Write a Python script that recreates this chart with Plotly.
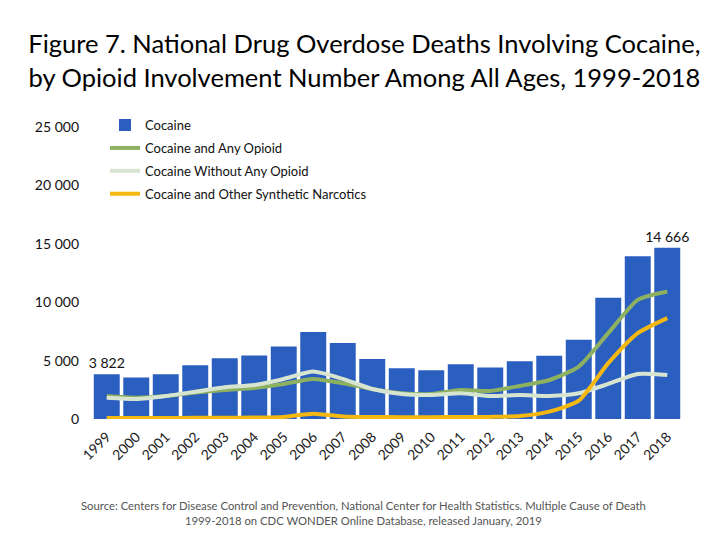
import plotly.graph_objects as go

years = [str(y) for y in range(1999, 2019)]
cocaine = [3822, 3544, 3833, 4599, 5199, 5443, 6208, 7448, 6512, 5129,
           4350, 4183, 4681, 4404, 4944, 5415, 6784, 10375, 13942, 14666]
cocaine_any_opioid = [1970, 1830, 1960, 2260, 2490, 2660, 3000, 3430, 3060, 2570,
                      2200, 2140, 2490, 2400, 2830, 3340, 4490, 7350, 10200, 10920]
cocaine_no_opioid = [1830, 1715, 1970, 2340, 2720, 2915, 3430, 4060, 3430, 2570,
                     2140, 2060, 2200, 1970, 2060, 1970, 2200, 3000, 3860, 3770]
cocaine_synth = [80, 80, 90, 100, 110, 120, 180, 450, 220, 170,
                 160, 160, 170, 180, 250, 630, 1570, 4780, 7350, 8640]
y_ticks = [0, 5000, 10000, 15000, 20000, 25000]
title_lines = ["Figure 7. National Drug Overdose Deaths Involving Cocaine,",
               "by Opioid Involvement Number Among All Ages, 1999-2018"]
source_lines = ["Source: Centers for Disease Control and Prevention, National Center for Health Statistics. Multiple Cause of Death",
                "1999-2018 on CDC WONDER Online Database, released January, 2019"]

FONT = "Lato"

# label only the first and last bars
bar_text = [f"{v:,}".replace(",", " ") if i in (0, len(cocaine) - 1) else ""
            for i, v in enumerate(cocaine)]

fig = go.Figure()
fig.add_trace(go.Bar(x=years, y=cocaine, name="Cocaine",
                     marker=dict(color="#2A5FC0", line=dict(width=0)),
                     text=bar_text, textposition="outside", cliponaxis=False,
                     constraintext="none",
                     textfont=dict(family=FONT, size=14, color="#111"),
                     legendgroup="a"))
fig.add_trace(go.Scatter(x=years, y=cocaine_any_opioid, name="Cocaine and Any Opioid",
                         mode="lines", line=dict(color="#8DB061", width=4, shape="spline", smoothing=0.6),
                         legendgroup="b"))
fig.add_trace(go.Scatter(x=years, y=cocaine_no_opioid, name="Cocaine Without Any Opioid",
                         mode="lines", line=dict(color="#D7E4CF", width=4, shape="spline", smoothing=0.6),
                         legendgroup="c"))
fig.add_trace(go.Scatter(x=years, y=cocaine_synth, name="Cocaine and Other Synthetic Narcotics",
                         mode="lines", line=dict(color="#F4B811", width=4, shape="spline", smoothing=0.6),
                         legendgroup="d"))

fig.update_layout(
    width=720, height=540,
    margin=dict(l=84, r=46, t=119, b=129, autoexpand=False),
    paper_bgcolor="white", plot_bgcolor="white",
    separators=". ",
    bargap=0.12,
    showlegend=True,
    legend=dict(x=0.022, y=1.058, xanchor="left", yanchor="top",
                font=dict(family=FONT, size=13, color="#111"),
                traceorder="grouped", tracegroupgap=3,
                bgcolor="rgba(0,0,0,0)"),
    title=dict(text="<br>".join(title_lines), x=0.495, xanchor="center",
               y=0.916, yanchor="top",
               font=dict(family=FONT, size=25.5, color="#000")),
    xaxis=dict(type="category", tickangle=-45, showgrid=False, showline=False, ticks="",
               automargin=False, ticklabelstandoff=6,
               tickfont=dict(family=FONT, size=14, color="#222")),
    yaxis=dict(range=[0, 25000], tickvals=y_ticks, tickformat=",d",
               showgrid=False, zeroline=False, showline=False, ticks="",
               ticklabelstandoff=12, automargin=False,
               tickfont=dict(family=FONT, size=14, color="#111")),
)

fig.add_annotation(xref="paper", yref="paper", x=0.46, y=-0.267, yanchor="top",
                   text="<br>".join(source_lines), showarrow=False, align="center",
                   font=dict(family=FONT, size=11.3, color="#555"))

fig.write_html("out.html")
